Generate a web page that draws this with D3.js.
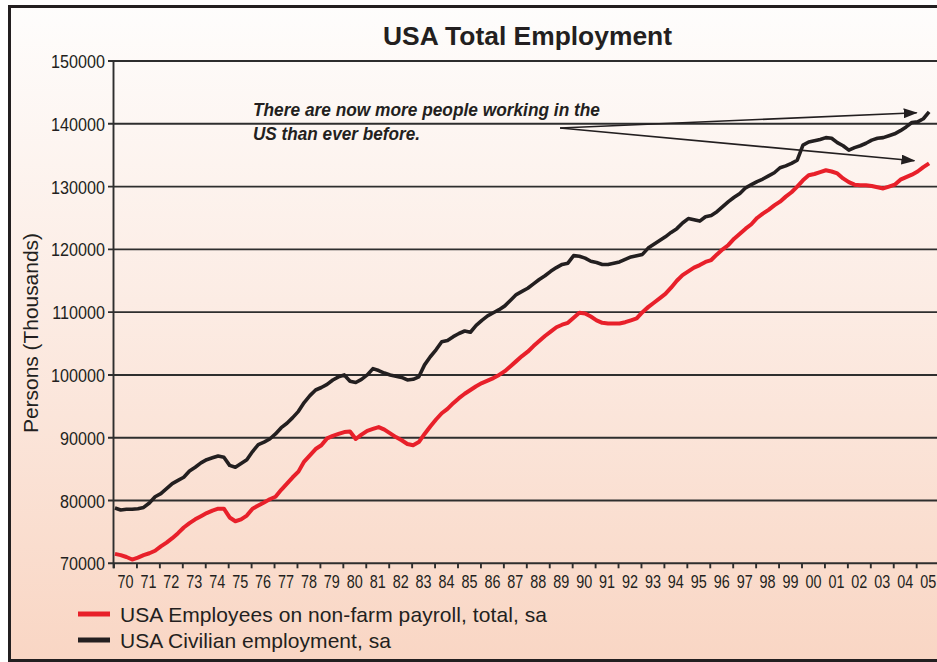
<!DOCTYPE html>
<meta charset="utf-8">
<style>
  body { margin: 0; background: white; }
  svg { display: block; font-family: "Liberation Sans", Arial, sans-serif; }
  .grid line { stroke: #2e2e2e; stroke-width: 1.9; }
  .axis line { stroke: #2e2e2e; stroke-width: 1.9; }
  .tick-label { fill: #231f20; }
</style>

<svg id="chart" width="937" height="662"></svg>

<script src="https://cdn.jsdelivr.net/npm/d3@7/dist/d3.min.js"></script>
<script>
  // quarterly readings (Jan, Apr, Jul, Oct), thousands of persons, Jan 1970 .. Jul 2005
  var startYear = 1970;

  var payroll = [
    71500, 71300, 71000, 70600,   // 1970
    70900, 71300, 71600, 72000,
    72700, 73300, 74000, 74800,
    75700, 76400, 77000, 77500,
    78000, 78400, 78700, 78700,
    77300, 76700, 77000, 77600,   // 1975
    78700, 79200, 79700, 80200,
    80600, 81700, 82700, 83700,
    84600, 86200, 87200, 88200,
    88800, 89900, 90300, 90600,
    90900, 91000, 89800, 90500,   // 1980
    91100, 91400, 91700, 91300,
    90700, 90100, 89600, 89000,
    88800, 89300, 90600, 91800,
    92900, 93900, 94600, 95500,
    96300, 97000, 97600, 98200,   // 1985
    98700, 99100, 99500, 100000,
    100600, 101400, 102200, 103000,
    103700, 104600, 105400, 106200,
    106900, 107600, 108000, 108300,
    109100, 109900, 109800, 109300, // 1990
    108700, 108300, 108200, 108200,
    108200, 108400, 108700, 109000,
    110000, 110800, 111500, 112200,
    112900, 113900, 115000, 115900,
    116500, 117100, 117500, 118000, // 1995
    118300, 119200, 120000, 120700,
    121700, 122500, 123300, 124000,
    125000, 125700, 126300, 127000,
    127600, 128400, 129100, 130000,
    131000, 131800, 132000, 132300, // 2000
    132600, 132400, 132100, 131300,
    130700, 130300, 130200, 130200,
    130100, 129900, 129700, 130000,
    130300, 131100, 131500, 131900,
    132400, 133100, 133700          // 2005
  ];

  var civilian = [
    78800, 78500, 78600, 78600,   // 1970
    78700, 78900, 79600, 80600,
    81100, 81900, 82700, 83200,
    83700, 84700, 85300, 86000,
    86500, 86800, 87100, 86900,
    85600, 85300, 85900, 86500,   // 1975
    87800, 88900, 89300, 89800,
    90600, 91600, 92300, 93200,
    94200, 95600, 96700, 97600,
    98000, 98500, 99200, 99700,
    100000, 99000, 98800, 99300,  // 1980
    100000, 101000, 100700, 100300,
    100000, 99800, 99600, 99200,
    99300, 99700, 101600, 102900,
    104000, 105300, 105500, 106100,
    106600, 107000, 106800, 107900, // 1985
    108700, 109400, 109900, 110400,
    111000, 111900, 112800, 113300,
    113800, 114500, 115200, 115800,
    116500, 117100, 117600, 117800,
    119000, 118900, 118600, 118100, // 1990
    117900, 117600, 117600, 117800,
    118000, 118400, 118800, 119000,
    119200, 120200, 120800, 121400,
    122000, 122700, 123300, 124200,
    124900, 124700, 124500, 125200, // 1995
    125400, 126000, 126800, 127600,
    128300, 128900, 129800, 130300,
    130800, 131200, 131700, 132200,
    133000, 133300, 133700, 134200,
    136600, 137100, 137300, 137500, // 2000
    137800, 137700, 137000, 136500,
    135800, 136200, 136500, 136900,
    137400, 137700, 137800, 138100,
    138400, 138900, 139500, 140200,
    140300, 140800, 141900          // 2005
  ];

  var seriesNames = [
    "USA Employees on non-farm payroll, total, sa",
    "USA Civilian employment, sa"
  ];
  var seriesColors = ["#e8202a", "#231f20"];

  var yTicks = [70000, 80000, 90000, 100000, 110000, 120000, 130000, 140000, 150000];
  var years = d3.range(1970, 2006);

  var noteLines = ["There are now more people working in the", "US than ever before."];
  // annotation anchor points in data units [year, persons]
  var noteStart = [1976.06, 141240];
  var arrowFrom = [1989.45, 139330];
  var arrowTo = [[2005.0, 141760], [2004.9, 134120]];

  var svg = d3.select("#chart");

  var x = d3.scaleLinear().domain([1970, 2006]).range([114, 939.6]);
  var y = d3.scaleLinear().domain([70000, 150000]).range([563.3, 61]);

  // background panel
  var defs = svg.append("defs");
  var grad = defs.append("linearGradient")
    .attr("id", "bg").attr("x1", 0).attr("y1", 0).attr("x2", 0).attr("y2", 1);
  grad.append("stop").attr("offset", "0%").attr("stop-color", "#fefdfc");
  grad.append("stop").attr("offset", "45%").attr("stop-color", "#fcece4");
  grad.append("stop").attr("offset", "100%").attr("stop-color", "#f9d6c4");

  defs.append("marker")
    .attr("id", "arrowhead")
    .attr("markerUnits", "userSpaceOnUse")
    .attr("viewBox", "0 0 14 10")
    .attr("refX", 13).attr("refY", 5)
    .attr("markerWidth", 14).attr("markerHeight", 10)
    .attr("orient", "auto")
    .append("path")
    .attr("d", "M0,0 L14,5 L0,10 Z")
    .attr("fill", "#231f20");

  svg.append("rect")
    .attr("x", 9.5).attr("y", 6.5)
    .attr("width", 940).attr("height", 654)
    .attr("fill", "url(#bg)")
    .attr("stroke", "#231f20")
    .attr("stroke-width", 3);

  // title
  svg.append("text")
    .attr("x", 527.5).attr("y", 44.5)
    .attr("text-anchor", "middle")
    .attr("font-size", 26).attr("font-weight", "bold")
    .attr("fill", "#231f20")
    .attr("textLength", 289)
    .attr("lengthAdjust", "spacingAndGlyphs")
    .text("USA Total Employment");

  // horizontal grid
  svg.append("g").attr("class", "grid")
    .selectAll("line")
    .data(yTicks)
    .enter().append("line")
    .attr("x1", 108).attr("x2", 940)
    .attr("y1", function(d) { return y(d); })
    .attr("y2", function(d) { return y(d); });

  // y axis line
  svg.append("g").attr("class", "axis")
    .append("line")
    .attr("x1", x(1970) - 0.5).attr("x2", x(1970) - 0.5)
    .attr("y1", y(150000)).attr("y2", y(70000) + 5);

  // y tick labels (narrow)
  svg.append("g")
    .selectAll("text")
    .data(yTicks)
    .enter().append("text")
    .attr("class", "tick-label")
    .attr("text-anchor", "end")
    .attr("font-size", 19)
    .attr("transform", function(d) { return "translate(105," + (y(d) + 7) + ") scale(0.85,1)"; })
    .text(function(d) { return d; });

  // x ticks and labels
  var xAxis = svg.append("g").attr("class", "axis");
  xAxis.selectAll("line")
    .data(years)
    .enter().append("line")
    .attr("x1", function(d) { return x(d); })
    .attr("x2", function(d) { return x(d); })
    .attr("y1", y(70000)).attr("y2", y(70000) + 5);

  xAxis.selectAll("text")
    .data(years)
    .enter().append("text")
    .attr("class", "tick-label")
    .attr("text-anchor", "middle")
    .attr("font-size", 18)
    .attr("transform", function(d) { return "translate(" + x(d + 0.5) + ",588) scale(0.8,1)"; })
    .text(function(d) { return String(d % 100).padStart(2, "0"); });

  // y axis title
  svg.append("text")
    .attr("transform", "translate(37.5,333) rotate(-90)")
    .attr("text-anchor", "middle")
    .attr("font-size", 21)
    .attr("fill", "#231f20")
    .attr("textLength", 200)
    .text("Persons (Thousands)");

  // series
  var line = d3.line()
    .x(function(d, i) { return x(startYear + (i * 3 + 0.5) / 12); })
    .y(function(d) { return y(d); });

  svg.append("path")
    .datum(civilian)
    .attr("fill", "none")
    .attr("stroke", seriesColors[1])
    .attr("stroke-width", 3.6)
    .attr("stroke-linejoin", "round")
    .attr("d", line);

  svg.append("path")
    .datum(payroll)
    .attr("fill", "none")
    .attr("stroke", seriesColors[0])
    .attr("stroke-width", 4)
    .attr("stroke-linejoin", "round")
    .attr("d", line);

  // annotation
  svg.selectAll(".note")
    .data(noteLines)
    .enter().append("text")
    .attr("class", "note")
    .attr("x", x(noteStart[0]))
    .attr("y", function(d, i) { return y(noteStart[1]) + i * 23.5; })
    .attr("font-size", 19)
    .attr("font-weight", "bold")
    .attr("font-style", "italic")
    .attr("fill", "#231f20")
    .attr("textLength", function(d, i) { return i == 0 ? 347 : 167; })
    .attr("lengthAdjust", "spacingAndGlyphs")
    .text(function(d) { return d; });

  svg.selectAll(".arrow")
    .data(arrowTo)
    .enter().append("line")
    .attr("class", "arrow")
    .attr("x1", x(arrowFrom[0])).attr("y1", y(arrowFrom[1]))
    .attr("x2", function(d) { return x(d[0]); })
    .attr("y2", function(d) { return y(d[1]); })
    .attr("stroke", "#231f20")
    .attr("stroke-width", 1.6)
    .attr("marker-end", "url(#arrowhead)");

  // legend
  var legend = svg.append("g")
    .selectAll("g")
    .data(seriesNames)
    .enter().append("g")
    .attr("transform", function(d, i) { return "translate(0," + (614 + i * 26) + ")"; });

  legend.append("line")
    .attr("x1", 78).attr("x2", 110)
    .attr("stroke", function(d, i) { return seriesColors[i]; })
    .attr("stroke-width", 5);

  legend.append("text")
    .attr("x", 120).attr("y", 8)
    .attr("font-size", 21)
    .attr("fill", "#231f20")
    .attr("textLength", function(d, i) { return i == 0 ? 427 : 271; })
    .text(function(d) { return d; });
</script>
